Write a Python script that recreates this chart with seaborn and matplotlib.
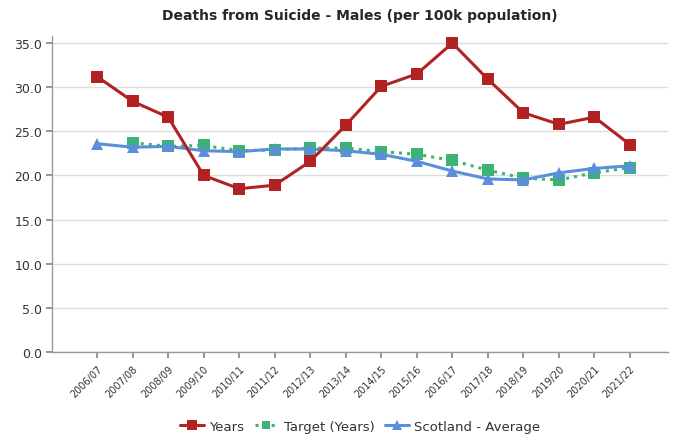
import numpy as np
import pandas as pd
import seaborn as sns
import matplotlib.pyplot as plt

# Data
periods = ['2006/07', '2007/08', '2008/09', '2009/10', '2010/11', '2011/12', '2012/13', '2013/14',
           '2014/15', '2015/16', '2016/17', '2017/18', '2018/19', '2019/20', '2020/21', '2021/22']
years = [31.2, 28.4, 26.6, 20.0, 18.5, 18.9, 21.6, 25.7, 30.1, 31.5, 35.0, 30.9, 27.1, 25.8, 26.6, 23.5]
target = [np.nan, 23.7, 23.3, 23.4, 22.8, 22.9, 23.1, 23.1, 22.7, 22.4, 21.7, 20.6, 19.7, 19.5, 20.3, 20.9]
scotland = [23.6, 23.2, 23.3, 22.8, 22.7, 23.0, 23.0, 22.8, 22.4, 21.6, 20.5, 19.6, 19.5, 20.3, 20.8, 21.1]

df = pd.DataFrame({'period': periods, 'Years': years, 'Target (Years)': target,
                   'Scotland - Average': scotland})
df['x'] = range(len(df))

sns.set_theme(style="white")
plt.rcParams['font.family'] = ['DejaVu Sans']

fig = plt.figure(figsize=(6.75, 4.35), dpi=100)
ax = fig.add_axes([52 / 675, 1 - 353 / 435, 616 / 675, 316 / 435])

red = '#b22222'
green = '#3cb371'
blue = '#5b8fdc'

sns.lineplot(data=df, x='x', y='Target (Years)', color=green, linestyle=':', linewidth=2.2,
             marker='s', markersize=8, markeredgewidth=0, ax=ax, label='Target (Years)', zorder=3)
sns.lineplot(data=df, x='x', y='Scotland - Average', color=blue, linewidth=2.2,
             marker='^', markersize=9, markeredgewidth=0, ax=ax, label='Scotland - Average', zorder=4)
sns.lineplot(data=df, x='x', y='Years', color=red, linewidth=2.2,
             marker='s', markersize=9, markeredgewidth=0, ax=ax, label='Years', zorder=5)

ax.set_xlim(-1.27, 16.07)
ax.set_ylim(0, 35.8)
ax.set_yticks(np.arange(0, 36, 5))
ax.set_yticklabels([f'{v:.1f}' for v in np.arange(0, 36, 5)], fontsize=9, color='#333333')
ax.set_xticks(df['x'])
ax.set_xticklabels(periods, rotation=45, ha='right', rotation_mode='anchor', fontsize=7, color='#333333')
ax.tick_params(axis='x', length=4, color='#888888', bottom=True, pad=4)
ax.tick_params(axis='y', length=4, color='#888888', left=True, pad=3)
ax.set_xlabel('')
ax.set_ylabel('')
ax.yaxis.grid(True, color='#dddddd', linewidth=1)
ax.set_axisbelow(True)
for s in ['top', 'right']:
    ax.spines[s].set_visible(False)
for s in ['left', 'bottom']:
    ax.spines[s].set_color('#999999')
    ax.spines[s].set_linewidth(1)

ax.set_title('Deaths from Suicide - Males (per 100k population)', fontsize=10, fontweight='bold', pad=12)

handles, labels = ax.get_legend_handles_labels()
order = [labels.index('Years'), labels.index('Target (Years)'), labels.index('Scotland - Average')]
ax.legend([handles[i] for i in order], [labels[i] for i in order], loc='center',
          bbox_to_anchor=(0.5, -0.235), ncol=3, frameon=False, fontsize=9.5,
          handlelength=1.8, columnspacing=0.8, handletextpad=0.4, markerscale=0.8)
for t in ax.get_legend().get_texts():
    t.set_color('#333333')

plt.savefig('out.png', dpi=100)
plt.close()
